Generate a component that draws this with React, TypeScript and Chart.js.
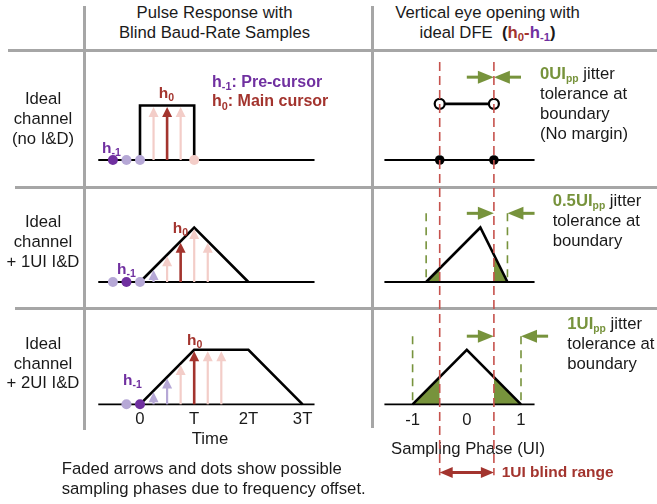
import React, { useEffect, useRef } from 'react';
import { Chart, registerables } from 'chart.js';

Chart.register(...registerables);

const FONT = '"Liberation Sans", Arial, Helvetica, sans-serif';
Chart.defaults.font.family = FONT;

// ---------------- data ----------------
const TIME_AXIS_T = [-0.77, 3.22];
const TIME_AXIS_V = [0, 0];
const TIME_TICKS = [0, 1, 2, 3];
const TIME_TICK_LABELS = ['0', 'T', '2T', '3T'];

const PULSE1_T = [0, 0, 1, 1];
const PULSE1_V = [0, 1, 1, 0];
const PULSE2_T = [0, 1, 2];
const PULSE2_V = [0, 1, 0];
const PULSE3_T = [0, 1, 2, 3];
const PULSE3_V = [0, 1, 1, 0];

const SAMPLES1_T = [-0.5, -0.25, 0, 0.25, 0.5, 0.75, 1];
const SAMPLES1_V = [0, 0, 0, 1, 1, 1, 0];
const SAMPLES1_ROLE = ['pre', 'preFaded', 'preFaded', 'mainFaded', 'main', 'mainFaded', 'mainFaded'];
const SAMPLES2_T = [-0.5, -0.25, 0, 0.25, 0.5, 0.75, 1, 1.25];
const SAMPLES2_V = [0, 0, 0, 0.25, 0.5, 0.75, 1, 0.75];
const SAMPLES2_ROLE = ['preFaded', 'pre', 'preFaded', 'preFaded', 'mainFaded', 'main', 'mainFaded', 'mainFaded'];
const SAMPLES3_T = [-0.25, 0, 0.25, 0.5, 0.75, 1, 1.25, 1.5];
const SAMPLES3_V = [0, 0, 0.25, 0.5, 0.75, 1, 1, 1];
const SAMPLES3_ROLE = ['preFaded', 'pre', 'preFaded', 'preFaded', 'mainFaded', 'main', 'mainFaded', 'mainFaded'];

const PHASE_AXIS_P = [-1.52, 1.25];
const PHASE_AXIS_V = [0, 0];
const PHASE_TICKS = [-1, 0, 1];
const PHASE_TICK_LABELS = ['-1', '0', '1'];

const EYE1_P = [-0.5, 0.5];
const EYE1_V = [1.03, 1.03];
const EYE1_SAMPLE_P = [-0.5, 0.5];
const EYE1_SAMPLE_V = [0, 0];
const EYE2_P = [-0.75, 0.25, 0.75];
const EYE2_V = [0, 1, 0];
const EYE3_P = [-1, 0, 1];
const EYE3_V = [0, 1, 0];

// margin regions (outside the blind range, under the eye curve)
const MARGIN2_LEFT_P = [-0.75, -0.5];
const MARGIN2_LEFT_V = [0, 0.25];
const MARGIN2_RIGHT_P = [0.5, 0.75];
const MARGIN2_RIGHT_V = [0.5, 0];
const MARGIN3_LEFT_P = [-1, -0.5];
const MARGIN3_LEFT_V = [0, 0.5];
const MARGIN3_RIGHT_P = [0.5, 1];
const MARGIN3_RIGHT_V = [0.5, 0];

const JITTER_EDGE = [0.5, 0.75, 1];
const JITTER_LEVEL = [1.52, 1.26, 1.25];
const JITTER_ARROW_LEN = [0.5, 0.5, 0.5];

const BLIND_EDGES = [-0.5, 0.5];
const BLIND_SPAN = [6.28, -1.3];
const BLIND_ARROW_LEVEL = -1.25;

// ---------------- styling / layout ----------------
const TEXT = '#1a1a1a';
const DARK_RED = '#a3342e';
const PINK = '#f3cdc8';
const PURPLE = '#7030a0';
const LIGHT_PURPLE = '#b6a8d6';
const GREEN = '#77933c';
const RED_DASH = '#c6524d';
const GRAY = '#a6a6a6';
const ROLE_COLOR: Record<string, string> = {
  pre: PURPLE,
  preFaded: LIGHT_PURPLE,
  main: DARK_RED,
  mainFaded: PINK,
};

const T_ORIGIN_PX = 140;
const T_UNIT_PX = 54.2;
const P_ORIGIN_PX = 466.8;
const P_UNIT_PX = 54.2;
const AMP_UNIT_PX = 54.5;
const ROW_BASELINE = [160, 282, 404.3];

type Box = { left: number; top: number; width: number; height: number };

const lineDS = (xs: number[], ys: number[], color: string, width: number, dash: number[] = []) => ({
  type: 'line',
  data: xs.map((x, i) => ({ x, y: ys[i] })),
  borderColor: color,
  borderWidth: width,
  borderDash: dash,
  borderCapStyle: 'butt',
  borderJoinStyle: 'miter',
  pointRadius: 0,
  pointHoverRadius: 0,
  fill: false,
  tension: 0,
  clip: false,
});

const dotDS = (xs: number[], ys: number[], fills: string[] | string, r: number, stroke?: string, sw = 0) => ({
  type: 'scatter',
  data: xs.map((x, i) => ({ x, y: ys[i] })),
  pointRadius: r,
  pointHoverRadius: r,
  pointBackgroundColor: fills,
  pointBorderColor: stroke || fills,
  pointBorderWidth: sw,
  showLine: false,
  clip: false,
});

const areaDS = (xs: number[], ys: number[], color: string) => ({
  type: 'line',
  data: xs.map((x, i) => ({ x, y: ys[i] })),
  borderWidth: 0,
  borderColor: 'rgba(0,0,0,0)',
  backgroundColor: color,
  fill: 'origin',
  pointRadius: 0,
  tension: 0,
  clip: false,
});

function drawHArrow(ctx: CanvasRenderingContext2D, x0: number, x1: number, y: number, color: string, w: number, headLen: number, half: number, both = false) {
  const dir = Math.sign(x1 - x0);
  ctx.save();
  ctx.strokeStyle = color;
  ctx.fillStyle = color;
  ctx.lineWidth = w;
  ctx.lineCap = 'butt';
  ctx.beginPath();
  ctx.moveTo(both ? x0 + dir * (headLen - 2) : x0, y);
  ctx.lineTo(x1 - dir * (headLen - 2), y);
  ctx.stroke();
  const head = (tip: number, d: number) => {
    ctx.beginPath();
    ctx.moveTo(tip, y);
    ctx.lineTo(tip - d * headLen, y - half);
    ctx.lineTo(tip - d * headLen, y + half);
    ctx.closePath();
    ctx.fill();
  };
  head(x1, dir);
  if (both) head(x0, -dir);
  ctx.restore();
}

function stemPlugin(ts: number[], vs: number[], roles: string[]) {
  return {
    id: 'stems',
    afterDatasetsDraw(chart: any) {
      const { ctx, scales } = chart;
      const x = scales.x;
      const y = scales.y;
      const y0 = y.getPixelForValue(0);
      ctx.save();
      ts.forEach((t, i) => {
        const v = vs[i];
        if (v === 0) return;
        const col = ROLE_COLOR[roles[i]];
        const px = x.getPixelForValue(t);
        const tip = y.getPixelForValue(v) + 1.5;
        const headLen = 10;
        const half = 5;
        ctx.strokeStyle = col;
        ctx.fillStyle = col;
        ctx.lineWidth = roles[i] === 'main' ? 2.6 : 2.2;
        ctx.beginPath();
        ctx.moveTo(px, y0);
        ctx.lineTo(px, Math.min(y0, tip + headLen - 1));
        ctx.stroke();
        ctx.beginPath();
        ctx.moveTo(px, tip);
        ctx.lineTo(px - half, tip + headLen);
        ctx.lineTo(px + half, tip + headLen);
        ctx.closePath();
        ctx.fill();
      });
      ctx.restore();
    },
  };
}

function jitterPlugin(row: number) {
  return {
    id: 'jitter',
    afterDatasetsDraw(chart: any) {
      const { ctx, scales } = chart;
      const x = scales.x;
      const y = scales.y;
      const yy = y.getPixelForValue(JITTER_LEVEL[row]);
      const inner = BLIND_EDGES[1];
      drawHArrow(ctx, x.getPixelForValue(inner - JITTER_ARROW_LEN[row]), x.getPixelForValue(inner), yy, GREEN, 3, 16, 6.5);
      drawHArrow(ctx, x.getPixelForValue(JITTER_EDGE[row] + JITTER_ARROW_LEN[row]), x.getPixelForValue(JITTER_EDGE[row]), yy, GREEN, 3, 16, 6.5);
    },
  };
}

const blindPlugin = {
  id: 'blind',
  afterDatasetsDraw(chart: any) {
    const { ctx, scales } = chart;
    const yy = scales.y.getPixelForValue(BLIND_ARROW_LEVEL);
    drawHArrow(ctx, scales.x.getPixelForValue(BLIND_EDGES[0]), scales.x.getPixelForValue(BLIND_EDGES[1]), yy, DARK_RED, 3, 13, 5.5, true);
  },
};

type AxisSpec = { height: number; ticks: number[]; labels: string[]; title: string; tickPad: number; titlePad: number };

function panelConfig(box: Box, xOrigin: number, xUnit: number, baseline: number, datasets: any[], plugins: any[], axis?: AxisSpec) {
  const chartBottom = box.top + box.height - (axis ? axis.height : 0);
  const xMin = (box.left - xOrigin) / xUnit;
  const xMax = (box.left + box.width - xOrigin) / xUnit;
  const yMax = (baseline - box.top) / AMP_UNIT_PX;
  const yMin = (baseline - chartBottom) / AMP_UNIT_PX;
  const xScale: any = {
    type: 'linear',
    min: xMin,
    max: xMax,
    bounds: 'data',
    display: !!axis,
    grid: { display: false, drawTicks: false },
    border: { display: false },
  };
  if (axis) {
    xScale.ticks = {
      autoSkip: false,
      maxRotation: 0,
      minRotation: 0,
      padding: axis.tickPad,
      color: TEXT,
      font: { size: 16.7, family: FONT },
      callback: (_v: any, i: number) => axis.labels[i],
    };
    xScale.afterBuildTicks = (s: any) => {
      s.ticks = axis.ticks.map((v) => ({ value: v }));
    };
    xScale.afterFit = (s: any) => {
      s.height = axis.height;
    };
    xScale.title = {
      display: true,
      text: axis.title,
      color: TEXT,
      font: { size: 16.7, family: FONT },
      padding: { top: 0, bottom: axis.titlePad },
    };
  }
  return {
    type: 'line',
    data: { datasets },
    options: {
      responsive: false,
      maintainAspectRatio: false,
      animation: false,
      events: [],
      layout: { padding: 0, autoPadding: false },
      plugins: { legend: { display: false }, tooltip: { enabled: false }, title: { display: false } },
      scales: {
        x: xScale,
        y: { type: 'linear', min: yMin, max: yMax, bounds: 'data', display: false },
      },
    },
    plugins,
  };
}

function ChartBox({ box, config, z = 1 }: { box: Box; config: () => any; z?: number }) {
  const ref = useRef<HTMLCanvasElement | null>(null);
  useEffect(() => {
    if (!ref.current) return;
    const chart = new Chart(ref.current, config());
    return () => chart.destroy();
  }, []);
  return (
    <canvas
      ref={ref}
      width={box.width}
      height={box.height}
      style={{ position: 'absolute', left: box.left, top: box.top, width: box.width, height: box.height, zIndex: z }}
    />
  );
}

// ---------------- panel builders ----------------
function samplesDatasets(ts: number[], vs: number[], roles: string[]) {
  const idx = ts.map((_, i) => i).filter((i) => vs[i] === 0);
  return dotDS(idx.map((i) => ts[i]), idx.map((i) => vs[i]), idx.map((i) => ROLE_COLOR[roles[i]]), 5);
}

const L_BOX: Box[] = [
  { left: 88, top: 60, width: 244, height: 120 },
  { left: 88, top: 195, width: 244, height: 105 },
  { left: 88, top: 315, width: 244, height: 135 },
];
const R_BOX: Box[] = [
  { left: 376, top: 60, width: 184, height: 120 },
  { left: 376, top: 195, width: 184, height: 105 },
  { left: 376, top: 315, width: 184, height: 143 },
];
const OVERLAY_BOX: Box = { left: 376, top: 56, width: 184, height: 444 };

const leftConfig = (row: number) => () => {
  const pulses = [
    [PULSE1_T, PULSE1_V],
    [PULSE2_T, PULSE2_V],
    [PULSE3_T, PULSE3_V],
  ][row];
  const samples = [
    [SAMPLES1_T, SAMPLES1_V, SAMPLES1_ROLE],
    [SAMPLES2_T, SAMPLES2_V, SAMPLES2_ROLE],
    [SAMPLES3_T, SAMPLES3_V, SAMPLES3_ROLE],
  ][row] as [number[], number[], string[]];
  const datasets = [
    samplesDatasets(samples[0], samples[1], samples[2]),
    lineDS(pulses[0], pulses[1], '#000', 2.6),
    lineDS(TIME_AXIS_T, TIME_AXIS_V, '#000', 1.8),
  ];
  const axis =
    row === 2
      ? { height: 44, ticks: TIME_TICKS, labels: TIME_TICK_LABELS, title: 'Time', tickPad: 3.8, titlePad: 1 }
      : undefined;
  return panelConfig(L_BOX[row], T_ORIGIN_PX, T_UNIT_PX, ROW_BASELINE[row], datasets, [stemPlugin(samples[0], samples[1], samples[2])], axis);
};

const rightConfig = (row: number) => () => {
  let datasets: any[] = [];
  if (row === 0) {
    datasets = [
      dotDS(EYE1_P, EYE1_V, '#fff', 5, '#000', 2.2),
      dotDS(EYE1_SAMPLE_P, EYE1_SAMPLE_V, '#000', 4.8),
      lineDS(EYE1_P, EYE1_V, '#000', 2.6),
      lineDS(PHASE_AXIS_P, PHASE_AXIS_V, '#000', 1.8),
    ];
  } else {
    const eye = row === 1 ? [EYE2_P, EYE2_V] : [EYE3_P, EYE3_V];
    const fills =
      row === 1
        ? [[MARGIN2_LEFT_P, MARGIN2_LEFT_V], [MARGIN2_RIGHT_P, MARGIN2_RIGHT_V]]
        : [[MARGIN3_LEFT_P, MARGIN3_LEFT_V], [MARGIN3_RIGHT_P, MARGIN3_RIGHT_V]];
    const e = JITTER_EDGE[row];
    const lv = JITTER_LEVEL[row];
    datasets = [
      lineDS(eye[0], eye[1], '#000', 2.6),
      lineDS(PHASE_AXIS_P, PHASE_AXIS_V, '#000', 1.8),
      lineDS([-e, -e], [lv, 0], GREEN, 1.6, [8, 6]),
      lineDS([e, e], [lv, 0], GREEN, 1.6, [8, 6]),
      areaDS(fills[0][0], fills[0][1], GREEN),
      areaDS(fills[1][0], fills[1][1], GREEN),
    ];
  }
  const axis =
    row === 2
      ? { height: 52, ticks: PHASE_TICKS, labels: PHASE_TICK_LABELS, title: 'Sampling Phase (UI)', tickPad: 4.7, titlePad: -1 }
      : undefined;
  return panelConfig(R_BOX[row], P_ORIGIN_PX, P_UNIT_PX, ROW_BASELINE[row], datasets, [jitterPlugin(row)], axis);
};

const overlayConfig = () =>
  panelConfig(
    OVERLAY_BOX,
    P_ORIGIN_PX,
    P_UNIT_PX,
    ROW_BASELINE[2],
    [
      lineDS([BLIND_EDGES[0], BLIND_EDGES[0]], BLIND_SPAN, RED_DASH, 1.6, [9, 5]),
      lineDS([BLIND_EDGES[1], BLIND_EDGES[1]], BLIND_SPAN, RED_DASH, 1.6, [9, 5]),
    ],
    [blindPlugin]
  );

// ---------------- text helpers ----------------
function Txt({
  x,
  base,
  size = 16.7,
  lh = 20,
  weight = 400,
  color = TEXT,
  align = 'left',
  children,
}: {
  x: number;
  base: number;
  size?: number;
  lh?: number;
  weight?: number;
  color?: string;
  align?: 'left' | 'center';
  children: React.ReactNode;
}) {
  const top = base - ((lh - 1.117 * size) / 2 + 0.905 * size);
  const style: React.CSSProperties = {
    position: 'absolute',
    top,
    fontSize: size,
    lineHeight: lh + 'px',
    fontWeight: weight,
    color,
    fontFamily: FONT,
    whiteSpace: 'nowrap',
    zIndex: 5,
  };
  if (align === 'center') {
    style.left = x - 160;
    style.width = 320;
    style.textAlign = 'center';
  } else {
    style.left = x;
  }
  return <div style={style}>{children}</div>;
}

const Sub = ({ children, scale = 0.68 }: { children: React.ReactNode; scale?: number }) => (
  <span style={{ fontSize: scale + 'em', position: 'relative', top: '0.3em', lineHeight: 0 }}>{children}</span>
);

const HLine = ({ x0, x1, y }: { x0: number; x1: number; y: number }) => (
  <div style={{ position: 'absolute', left: x0, top: y - 1.5, width: x1 - x0, height: 3, background: GRAY }} />
);
const VLine = ({ x, y0, y1 }: { x: number; y0: number; y1: number }) => (
  <div style={{ position: 'absolute', left: x - 1.5, top: y0, width: 3, height: y1 - y0, background: GRAY }} />
);

export default function App() {
  return (
    <div style={{ position: 'absolute', left: 0, top: 0, width: 657, height: 504, background: '#fff', overflow: 'hidden', fontFamily: FONT }}>
      <HLine x0={8} x1={657} y={50} />
      <HLine x0={15} x1={657} y={187} />
      <HLine x0={15} x1={657} y={308.5} />
      <VLine x={84.5} y0={6} y1={430} />
      <VLine x={372} y0={6} y1={428} />

      {[0, 1, 2].map((r) => (
        <ChartBox key={'l' + r} box={L_BOX[r]} config={leftConfig(r)} />
      ))}
      {[0, 1, 2].map((r) => (
        <ChartBox key={'r' + r} box={R_BOX[r]} config={rightConfig(r)} />
      ))}
      <ChartBox box={OVERLAY_BOX} config={overlayConfig} z={3} />

      {/* headers */}
      <Txt x={214.5} base={19} lh={19.5} align="center">
        Pulse Response with
        <br />
        Blind Baud-Rate Samples
      </Txt>
      <Txt x={487.5} base={19} lh={19.5} align="center">
        Vertical eye opening with
        <br />
        ideal DFE{'\u00a0\u00a0'}
        <b>
          (<span style={{ color: DARK_RED }}>
            h<Sub>0</Sub>-
          </span>
          <span style={{ color: PURPLE }}>
            h<Sub>-1</Sub>
          </span>
          )
        </b>
      </Txt>

      {/* row labels */}
      <Txt x={43} base={105} lh={20} align="center">
        Ideal
        <br />
        channel
        <br />
        (no I&amp;D)
      </Txt>
      <Txt x={43} base={228} lh={19.75} align="center">
        Ideal
        <br />
        channel
        <br />+ 1UI I&amp;D
      </Txt>
      <Txt x={43} base={349.5} lh={19.75} align="center">
        Ideal
        <br />
        channel
        <br />+ 2UI I&amp;D
      </Txt>

      {/* left panel labels */}
      <Txt x={166.5} base={98.5} size={15.5} weight={700} color={DARK_RED} align="center">
        h<Sub>0</Sub>
      </Txt>
      <Txt x={102} base={153.5} size={15.5} weight={700} color={PURPLE}>
        h<Sub>-1</Sub>
      </Txt>
      <Txt x={212} base={87.5} size={16} weight={700} color={PURPLE}>
        h<Sub>-1</Sub>: Pre-cursor
      </Txt>
      <Txt x={212} base={107} size={16} weight={700} color={DARK_RED}>
        h<Sub>0</Sub>: Main cursor
      </Txt>
      <Txt x={172.7} base={233} size={15.5} weight={700} color={DARK_RED}>
        h<Sub>0</Sub>
      </Txt>
      <Txt x={117} base={274} size={15.5} weight={700} color={PURPLE}>
        h<Sub>-1</Sub>
      </Txt>
      <Txt x={187} base={345} size={15.5} weight={700} color={DARK_RED}>
        h<Sub>0</Sub>
      </Txt>
      <Txt x={123} base={385} size={15.5} weight={700} color={PURPLE}>
        h<Sub>-1</Sub>
      </Txt>

      {/* right panel texts */}
      <Txt x={540} base={80} lh={20}>
        <b style={{ color: GREEN }}>
          0UI<Sub scale={0.62}>pp</Sub>
        </b>{' '}
        jitter
        <br />
        tolerance at
        <br />
        boundary
        <br />
        (No margin)
      </Txt>
      <Txt x={552.7} base={207} lh={20}>
        <b style={{ color: GREEN }}>
          0.5UI<Sub scale={0.62}>pp</Sub>
        </b>{' '}
        jitter
        <br />
        tolerance at
        <br />
        boundary
      </Txt>
      <Txt x={567.3} base={330} lh={20}>
        <b style={{ color: GREEN }}>
          1UI<Sub scale={0.62}>pp</Sub>
        </b>{' '}
        jitter
        <br />
        tolerance at
        <br />
        boundary
      </Txt>

      <Txt x={501.7} base={477} size={15.5} weight={700} color={DARK_RED}>
        1UI blind range
      </Txt>

      <Txt x={61.7} base={475} lh={20}>
        Faded arrows and dots show possible
        <br />
        sampling phases due to frequency offset.
      </Txt>
    </div>
  );
}
